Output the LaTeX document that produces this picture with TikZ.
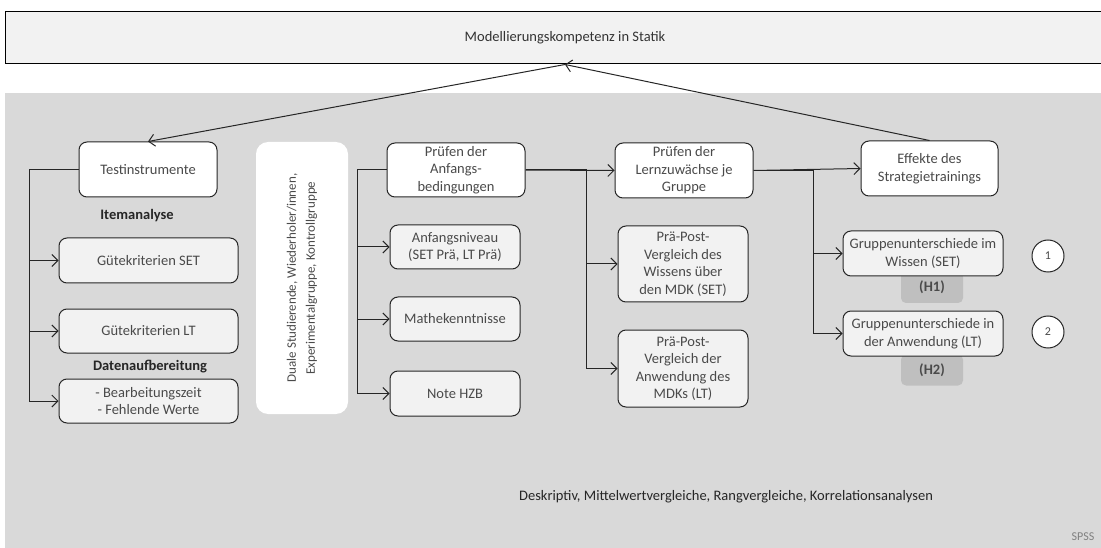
\documentclass[tikz,border=0pt]{standalone}
\usepackage{fontspec}
\setmainfont{Carlito}
\usetikzlibrary{arrows.meta}
\definecolor{panel}{HTML}{D9D9D9}
\definecolor{boxfill}{HTML}{F2F2F2}
\definecolor{hfill}{HTML}{BFBFBF}
\definecolor{txt}{HTML}{4A4A4A}
\definecolor{edge}{HTML}{262626}
\begin{document}
\begin{tikzpicture}[x=1pt,y=-1pt,
  basebox/.style={draw=edge, line width=1pt, rounded corners=8pt, align=center, text=txt,
    font=\fontsize{14.5}{17.5}\selectfont, inner sep=0pt},
  gbox/.style={basebox, fill=boxfill},
  wbox/.style={basebox, fill=white},
  hbox/.style={fill=hfill, rounded corners=5pt, text=txt, font=\fontsize{14.5}{17.5}\selectfont\bfseries,
    minimum width=62pt, minimum height=31pt, inner sep=0pt},
  numc/.style={circle, draw=edge, line width=1pt, fill=white, minimum size=32pt, inner sep=0pt,
    text=txt, font=\fontsize{12}{14}\selectfont},
  lbl/.style={font=\fontsize{14.5}{17.5}\selectfont\bfseries, text=black!85, inner sep=0pt},
  arr/.style={draw=edge, line width=1pt, -{Straight Barb[length=6pt,width=12pt,line width=1pt]}},
]
\useasboundingbox (0,0) rectangle (1101,548);
\clip (0,0) rectangle (1101,548);
% panel
\fill[panel] (5,93) rectangle (1110,560);
% top box
\node[draw=black, line width=1pt, fill=boxfill, minimum width=1120pt, minimum height=52pt, inner sep=0pt,
  font=\fontsize{14.5}{17}\selectfont, text=black!80] (top) at (565,38) {Modellierungskompetenz in Statik};

% left column
\node[wbox, minimum width=138pt, minimum height=55pt] (ti) at (148,169.5) {Testinstrumente};
\node[lbl] (ia) at (137,216) {Itemanalyse};
\node[gbox, minimum width=179pt, minimum height=45pt] (g1) at (148.5,260.5) {Gütekriterien SET};
\node[gbox, minimum width=179pt, minimum height=44pt] (g2) at (148.5,331) {Gütekriterien LT};
\node[lbl] (da) at (150,367) {Datenaufbereitung};
\node[gbox, minimum width=179pt, minimum height=44pt] (g3) at (148.5,401) {- Bearbeitungszeit\\- Fehlende Werte};

% groups box
\node[fill=white, rounded corners=12pt, minimum width=92pt, minimum height=272pt, inner sep=0pt] (du) at (302,278) {};
\node[rotate=90, align=center, text=txt, font=\fontsize{13}{19}\selectfont] (dut) at (du.center)
  {Duale Studierende, Wiederholer/innen,\\Experimentalgruppe, Kontrollgruppe};

% middle-left column
\node[wbox, minimum width=138pt, minimum height=54pt] (pa) at (456,170) {Prüfen der\\Anfangs-\\bedingungen};
\node[gbox, minimum width=130pt, minimum height=44pt] (an) at (455,247) {Anfangsniveau\\(SET Prä, LT Prä)};
\node[gbox, minimum width=130pt, minimum height=44pt] (mk) at (455,319) {Mathekenntnisse};
\node[gbox, minimum width=130pt, minimum height=45pt] (hz) at (455,393.5) {Note HZB};

% middle-right column
\node[wbox, minimum width=138pt, minimum height=55pt] (lz) at (684,170.5) {Prüfen der\\Lernzuwächse je\\Gruppe};
\node[gbox, minimum width=130pt, minimum height=76pt] (p1) at (683,264) {Prä-Post-\\Vergleich des\\Wissens über\\den MDK (SET)};
\node[gbox, minimum width=130pt, minimum height=77pt] (p2) at (683,368.5) {Prä-Post-\\Vergleich der\\Anwendung des\\MDKs (LT)};

% right column
\node[wbox, minimum width=137pt, minimum height=55pt] (ef) at (929.5,168.5) {Effekte des\\Strategietrainings};
\node[hbox] (h1) at (932,287.5) {(H1)};
\node[hbox] (h2) at (932,370) {(H2)};
\node[gbox, minimum width=160pt, minimum height=45pt] (s1) at (923,253.5) {Gruppenunterschiede im\\Wissen (SET)};
\node[gbox, minimum width=160pt, minimum height=45pt] (s2) at (923,333.5) {Gruppenunterschiede in\\der Anwendung (LT)};
\node[numc] (c1) at (1048,256) {1};
\node[numc] (c2) at (1048,332) {2};

% bottom texts
\node[font=\fontsize{14.5}{17}\selectfont, text=black!85, inner sep=0pt] (bt) at (726,497)
  {Deskriptiv, Mittelwertvergleiche, Rangvergleiche, Korrelationsanalysen};
\node[font=\fontsize{12}{14}\selectfont, text=black!50, inner sep=0pt] (sp) at (1083,537) {SPSS};

% connectors top
\draw[arr] (top.south) -- (ti.north);
\draw[arr] (ef.north) -- (top.south);

% left branch
\coordinate (lb) at (29,0);
\draw[arr] (ti.west) -| (lb |- g1.west) -- (g1.west);
\draw[arr] (ti.west) -| (lb |- g2.west) -- (g2.west);
\draw[arr] (ti.west) -| (lb |- g3.west) -- (g3.west);

% middle-left branch
\coordinate (mb) at (357,0);
\draw[arr] (pa.west) -| (mb |- an.west) -- (an.west);
\draw[arr] (pa.west) -| (mb |- mk.west) -- (mk.west);
\draw[arr] (pa.west) -| (mb |- hz.west) -- (hz.west);

% middle-right branch
\coordinate (rb) at (586,0);
\draw[arr] (pa.east) -- (lz.west);
\draw[arr] (pa.east) -| (rb |- p1.west) -- (p1.west);
\draw[arr] (pa.east) -| (rb |- p2.west) -- (p2.west);

% right branch
\coordinate (eb) at (813,0);
\draw[arr] (lz.east) -- (ef.west);
\draw[arr] (lz.east) -| (eb |- s1.west) -- (s1.west);
\draw[arr] (lz.east) -| (eb |- s2.west) -- (s2.west);
\end{tikzpicture}
\end{document}
